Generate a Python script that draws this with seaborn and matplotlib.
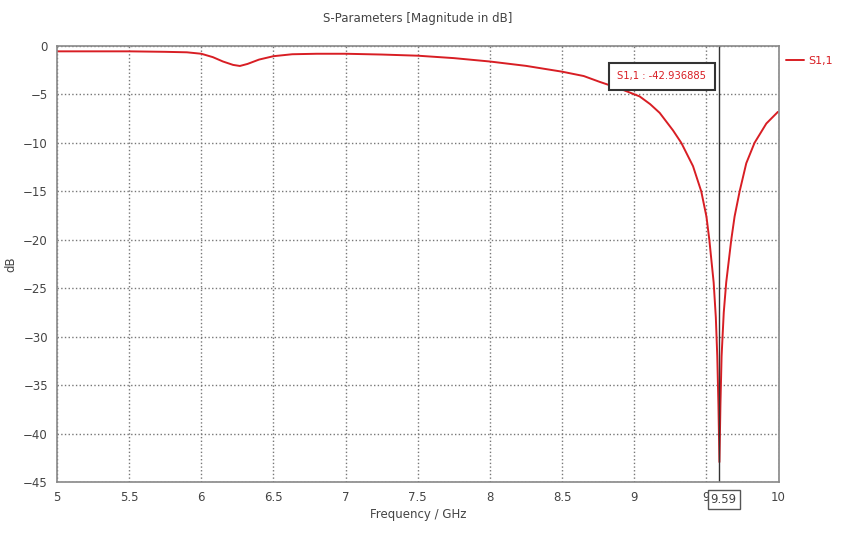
import numpy as np
import pandas as pd
import matplotlib
matplotlib.use('Agg')
import matplotlib.pyplot as plt
import seaborn as sns

# S1,1 magnitude
freq_ghz = [5.0, 5.25, 5.5, 5.75, 5.9, 6.0, 6.08, 6.15, 6.22, 6.267, 6.32, 6.4, 6.5,
            6.63, 6.8, 7.0, 7.25, 7.5, 7.75, 8.0, 8.25, 8.5, 8.65, 8.76, 8.9,
            9.037, 9.11, 9.176, 9.268, 9.326, 9.407, 9.464, 9.5, 9.52, 9.55,
            9.565, 9.575, 9.583, 9.59, 9.597, 9.605, 9.62, 9.637, 9.672, 9.695,
            9.73, 9.776, 9.833, 9.915, 9.995]
s11_db = [-0.55, -0.55, -0.55, -0.6, -0.65, -0.8, -1.15, -1.6, -1.95, -2.06, -1.85, -1.4, -1.05,
          -0.85, -0.8, -0.8, -0.88, -1.0, -1.25, -1.6, -2.05, -2.65, -3.1, -3.7, -4.4,
          -5.2, -6.0, -6.9, -8.7, -10.0, -12.4, -15.0, -17.6, -20.0, -24.4,
          -28.0, -32.0, -37.0, -42.94, -37.0, -32.0, -27.5, -24.4, -20.0, -17.6,
          -15.0, -12.1, -10.0, -8.0, -6.8]

marker_freq = 9.59
marker_text = "S1,1 : -42.936885"
x_ticks = [5, 5.5, 6, 6.5, 7, 7.5, 8, 8.5, 9, 9.5, 10]
x_tick_labels = ['5', '5.5', '6', '6.5', '7', '7.5', '8', '8.5', '9', '9', '10']
y_ticks = [0, -5, -10, -15, -20, -25, -30, -35, -40, -45]

sns.set_style('white')
plt.rcParams['font.family'] = ['DejaVu Sans']

df = pd.DataFrame({'Frequency': freq_ghz, 'S1,1': s11_db})

fig = plt.figure(figsize=(8.41, 5.35), dpi=100)
ax = fig.add_axes([0.0678, 0.099, 0.858, 0.815])

sns.lineplot(data=df, x='Frequency', y='S1,1', color='#d81e24', linewidth=1.4,
             ax=ax, label='S1,1')

ax.axvline(marker_freq, color='#333333', linewidth=1.0)

ax.set_xlim(5, 10)
ax.set_ylim(-45, 0)
ax.set_xticks(x_ticks)
ax.set_xticklabels(x_tick_labels)
ax.set_yticks(y_ticks)
ax.tick_params(axis='both', labelsize=8.5, colors='#444444', length=3, direction='out')
ax.grid(True, linestyle=':', color='#777777', linewidth=1.0)
for sp in ax.spines.values():
    sp.set_color('#888888')
    sp.set_linewidth(1.2)

ax.set_xlabel('Frequency / GHz', fontsize=8.5, color='#444444', labelpad=3)
ax.set_ylabel('dB', fontsize=8.5, color='#444444', labelpad=4)
fig.text(0.497, 0.965, 'S-Parameters [Magnitude in dB]', ha='center', va='center',
         fontsize=8.5, color='#444444')

# marker readout box
ax.text(9.19, -3.1, marker_text, color='#d81e24', fontsize=7.2, ha='center', va='center',
        bbox=dict(boxstyle='square,pad=0.85', facecolor='white', edgecolor='#333333',
                  linewidth=1.5))
# marker value on the x axis
ax.text(marker_freq + 0.03, -0.025, '9.59',
        transform=matplotlib.transforms.blended_transform_factory(ax.transData, ax.transAxes),
        fontsize=8.5, color='#444444', ha='center', va='top',
        bbox=dict(boxstyle='square,pad=0.25', facecolor='white', edgecolor='#555555',
                  linewidth=1.0))

ax.legend(loc='upper left', bbox_to_anchor=(1.0, 0.995), frameon=False, fontsize=8,
          handlelength=1.6, handletextpad=0.4, borderpad=0.2, labelcolor='#d81e24')

fig.savefig('out.png', dpi=100, facecolor='white')
